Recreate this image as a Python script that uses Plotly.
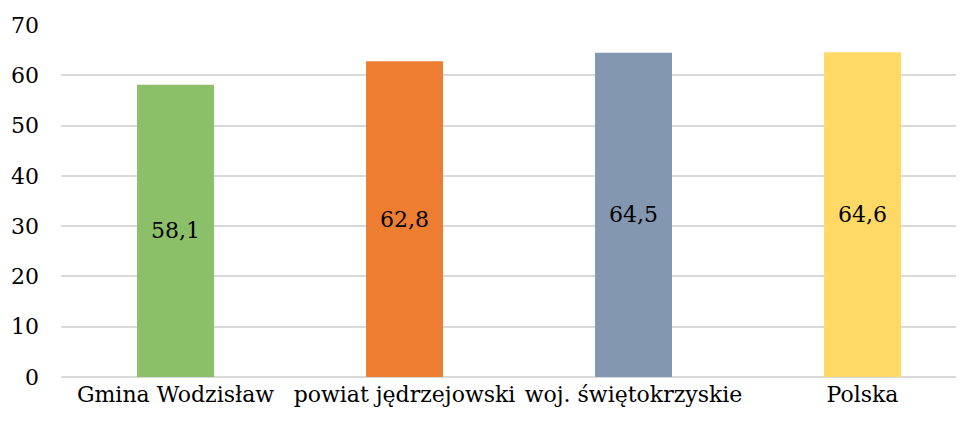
import plotly.graph_objects as go

categories = ["Gmina Wodzisław", "powiat jędrzejowski", "woj. świętokrzyskie", "Polska"]
values = [58.1, 62.8, 64.5, 64.6]
colors = ["#8CC068", "#ED7D31", "#8497B0", "#FFD966"]
tick_vals = [0, 10, 20, 30, 40, 50, 60, 70]

labels = [f"{v:.1f}".replace(".", ",") for v in values]
FONT = "DejaVu Serif"

fig = go.Figure(go.Bar(
    x=categories, y=values, marker=dict(color=colors, line=dict(width=0)),
    width=0.336, text=labels, textposition="inside", insidetextanchor="middle",
    textangle=0,
    textfont=dict(family=FONT, size=22, color="#000000"),
    hoverinfo="skip",
))

fig.update_layout(
    width=964, height=421,
    margin=dict(l=53, r=0, t=17, b=52),
    paper_bgcolor="white", plot_bgcolor="white",
    font=dict(family=FONT, size=22, color="#000000"),
    showlegend=False,
    uniformtext=dict(minsize=22, mode="show"),
)
fig.update_xaxes(range=[-0.5, 3.478], showgrid=False, showline=False, ticks="",
                 automargin=False, tickfont=dict(family=FONT, size=22), ticklabelstandoff=2)
fig.update_yaxes(range=[0, 70], tickvals=tick_vals, showgrid=True, gridcolor="#D9D9D9",
                 gridwidth=1.5, zeroline=True, zerolinecolor="#D9D9D9", zerolinewidth=1.5,
                 automargin=False, showline=False, ticks="",
                 tickfont=dict(family=FONT, size=22), ticklabelstandoff=21)

fig.write_html("out.html")
